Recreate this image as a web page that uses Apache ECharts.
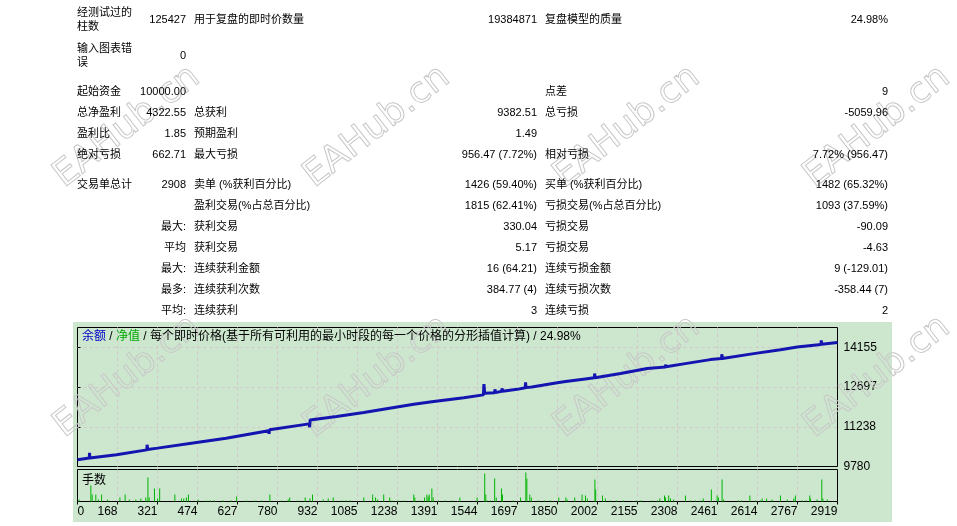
<!DOCTYPE html>
<html>
<head>
<meta charset="utf-8">
<script src="https://cdn.jsdelivr.net/npm/echarts@6/dist/echarts.min.js"></script>
<style>
html, body { margin: 0; padding: 0; background: #fff; }
#main { width: 957px; height: 526px; }
</style>
</head>
<body>
<div id="main"></div>
<script>
// Tabla de estadisticas (tres columnas etiqueta / valor)
const statLabels1 = ['经测试过的\n柱数', '输入图表错\n误', '起始资金', '总净盈利', '盈利比', '绝对亏损', '交易单总计', '', '', '', '', '', ''];
const statValues1 = ['125427', '0', '10000.00', '4322.55', '1.85', '662.71', '2908', '', '最大:', '平均', '最大:', '最多:', '平均:'];
const statLabels2 = ['用于复盘的即时价数量', '', '', '总获利', '预期盈利', '最大亏损', '卖单 (%获利百分比)', '盈利交易(%占总百分比)', '获利交易', '获利交易', '连续获利金额', '连续获利次数', '连续获利'];
const statValues2 = ['19384871', '', '', '9382.51', '1.49', '956.47 (7.72%)', '1426 (59.40%)', '1815 (62.41%)', '330.04', '5.17', '16 (64.21)', '384.77 (4)', '3'];
const statLabels3 = ['复盘模型的质量', '', '点差', '总亏损', '', '相对亏损', '买单 (%获利百分比)', '亏损交易(%占总百分比)', '亏损交易', '亏损交易', '连续亏损金额', '连续亏损次数', '连续亏损'];
const statValues3 = ['24.98%', '', '9', '-5059.96', '', '7.72% (956.47)', '1482 (65.32%)', '1093 (37.59%)', '-90.09', '-4.63', '9 (-129.01)', '-358.44 (7)', '2'];

// Curva de balance: numero de operacion / saldo
const balTrade = [15, 60, 61, 62, 164, 280, 281, 283, 321, 322, 324, 470, 583, 584, 586,
    745, 747, 749, 900, 902, 904, 1005, 1109, 1184, 1185, 1187, 1300, 1369, 1370, 1372,
    1491, 1566, 1568, 1571, 1609, 1610, 1612, 1636, 1637, 1639, 1695, 1726, 1727, 1729,
    1751, 1752, 1754, 1848, 1880, 1955, 1956, 1958, 1990, 1991, 1993, 2090, 2192,
    2261, 2262, 2264, 2337, 2338, 2340, 2433, 2434, 2436, 2476, 2477, 2479, 2599, 2701,
    2765, 2856, 2857, 2859, 2919];
const balValue = [10030, 10090, 10280, 10095, 10215, 10390, 10580, 10405, 10455, 10500, 10462, 10665, 10820, 10885, 10828,
    11095, 10985, 11130, 11345, 11225, 11490, 11614, 11760, 11880, 11942, 11886, 12066, 12158, 12180, 12162,
    12307, 12410, 12806, 12467, 12489, 12613, 12492, 12540, 12650, 12545, 12613, 12671, 12868, 12676,
    12700, 12733, 12703, 12854, 12904, 12995, 13050, 12999, 13036, 13196, 13040, 13196, 13379,
    13435, 13524, 13440, 13558, 13619, 13562, 13705, 13765, 13708, 13743, 13900, 13748, 13925, 14071,
    14166, 14262, 14410, 14266, 14335];

// Lotes por operacion
const volTrade = [21, 66, 71, 85, 95, 107, 130, 177, 197, 213, 238, 257, 276, 284, 289, 309, 321, 329,
    387, 412, 421, 431, 439, 476, 508, 523, 538, 572, 603, 623, 661, 692, 718, 750, 794, 820, 826,
    858, 885, 903, 913, 954, 973, 992, 1025, 1040, 1055, 1109, 1143, 1154, 1162, 1185, 1208, 1217,
    1240, 1265, 1300, 1304, 1326, 1341, 1350, 1355, 1359, 1369, 1374, 1395, 1420, 1445, 1476, 1542,
    1571, 1575, 1580, 1593, 1609, 1615, 1635, 1639, 1680, 1708, 1728, 1732, 1743, 1749, 1776, 1800,
    1822, 1854, 1881, 1886, 1915, 1943, 1956, 1963, 1992, 1995, 2021, 2032, 2052, 2075, 2102, 2152,
    2167, 2212, 2231, 2240, 2258, 2262, 2274, 2281, 2293, 2338, 2357, 2376, 2395, 2406, 2437, 2459,
    2464, 2478, 2484, 2540, 2552, 2584, 2606, 2625, 2631, 2648, 2669, 2701, 2727, 2752, 2758, 2785,
    2800, 2813, 2816, 2841, 2859, 2863, 2880];
const volLots = [0.02, 0.16, 0.07, 0.07, 0.02, 0.07, 0.02, 0.04, 0.07, 0.02, 0.02, 0.03, 0.04, 0.24, 0.04, 0.13, 0.03, 0.13,
    0.07, 0.03, 0.03, 0.04, 0.07, 0.02, 0.01, 0.01, 0.01, 0.01, 0.01, 0.05, 0.01, 0.01, 0.01, 0.07, 0.01, 0.02, 0.04,
    0.01, 0.04, 0.03, 0.07, 0.02, 0.03, 0.04, 0.01, 0.01, 0.01, 0.04, 0.07, 0.04, 0.02, 0.07, 0.04, 0.01,
    0.01, 0.01, 0.07, 0.04, 0.01, 0.04, 0.07, 0.05, 0.07, 0.13, 0.04, 0.01, 0.01, 0.01, 0.04, 0.04,
    0.28, 0.07, 0.01, 0.01, 0.23, 0.04, 0.13, 0.07, 0.01, 0.04, 0.29, 0.23, 0.07, 0.04, 0.01, 0.01,
    0.01, 0.04, 0.04, 0.02, 0.04, 0.07, 0.06, 0.03, 0.22, 0.12, 0.06, 0.03, 0.01, 0.01, 0.01, 0.01,
    0.01, 0.01, 0.01, 0.03, 0.06, 0.04, 0.06, 0.03, 0.02, 0.06, 0.01, 0.01, 0.01, 0.03, 0.12, 0.06,
    0.04, 0.22, 0.02, 0.01, 0.01, 0.06, 0.01, 0.01, 0.03, 0.03, 0.02, 0.06, 0.02, 0.03, 0.06, 0.01,
    0.01, 0.06, 0.03, 0.02, 0.22, 0.03, 0.02];

// Etiquetas de los ejes
const xTickLabels = ['0', '168', '321', '474', '627', '780', '932', '1085', '1238', '1391', '1544', '1697', '1850', '2002', '2155', '2308', '2461', '2614', '2767', '2919'];
const yTickLabels = ['9780', '11238', '12697', '14155'];

// Escalas (desplazadas para que min sea 0)
const X0 = 15, X_MAX = 2919;
const X_STEP = (X_MAX - X0) / (xTickLabels.length - 1);
const Y0 = 9780, Y_STEP = 4375 / 3;
const Y_TOP = 3.5 * Y_STEP;
const VOL_MAX = 0.32;

// Disposicion de la tabla
const ROW_Y = [20, 56, 92, 113, 134, 155, 185, 206, 227, 248, 269, 290, 311];
const COL_X = [77, 186, 194, 537, 545, 888];

const FONT_FAMILY = '"Liberation Sans", "Noto Sans CJK SC", sans-serif';
const GRID_COLOR = '#d3c7cd';
const PANEL_COLOR = '#cde7cf';

const chart = echarts.init(document.getElementById('main'));

const graphics = [];

// Fondo verde del panel
graphics.push({
    type: 'rect', z: -10, silent: true,
    shape: { x: 73, y: 322, width: 819, height: 200 },
    style: { fill: PANEL_COLOR }
});

// Marcas de agua (solo contorno, debajo del texto)
for (let i = 0; i < 4; i++) {
    for (let j = 0; j < 2; j++) {
        graphics.push({
            type: 'text', z: 1, silent: true,
            x: 127 + i * 250, y: 127 + j * 250,
            rotation: 38 * Math.PI / 180,
            style: {
                text: 'EAHub.cn',
                font: '36px "DejaVu Sans", sans-serif',
                fill: 'none',
                stroke: '#c8c8c8',
                lineWidth: 1,
                align: 'center',
                verticalAlign: 'middle'
            }
        });
    }
}

// Texto de la tabla
const columns = [statLabels1, statValues1, statLabels2, statValues2, statLabels3, statValues3];
columns.forEach(function (col, c) {
    col.forEach(function (txt, r) {
        if (!txt) return;
        graphics.push({
            type: 'text', z: 50, silent: true,
            x: COL_X[c], y: ROW_Y[r],
            style: {
                text: txt,
                fill: '#000',
                font: '11px ' + FONT_FAMILY,
                align: c % 2 === 0 ? 'left' : 'right',
                verticalAlign: 'middle',
                lineHeight: 14
            }
        });
    });
});

// Titulo del grafico
graphics.push({
    type: 'text', z: 50, silent: true,
    x: 82, y: 337,
    style: {
        text: '{b|余额} / {g|净值} / 每个即时价格(基于所有可利用的最小时段的每一个价格的分形插值计算) / 24.98%',
        fill: '#000',
        font: '12px ' + FONT_FAMILY,
        verticalAlign: 'middle',
        rich: {
            b: { fill: '#0000c8', font: '12px ' + FONT_FAMILY },
            g: { fill: '#00a800', font: '12px ' + FONT_FAMILY }
        }
    }
});
graphics.push({
    type: 'text', z: 50, silent: true,
    x: 82, y: 481,
    style: { text: '手数', fill: '#000', font: '12px ' + FONT_FAMILY, verticalAlign: 'middle' }
});

const splitStyle = { show: true, showMinLine: false, showMaxLine: false, lineStyle: { color: GRID_COLOR, type: [3, 3], width: 1 } };

const option = {
    animation: false,
    backgroundColor: '#fff',
    graphic: graphics,
    grid: [
        { left: 77.5, top: 327.5, width: 760, height: 139, show: true, borderColor: '#000', borderWidth: 1, backgroundColor: 'transparent' },
        { left: 77.5, top: 469.5, width: 760, height: 32, show: true, borderColor: '#000', borderWidth: 1, backgroundColor: 'transparent' }
    ],
    xAxis: [
        {
            gridIndex: 0, type: 'value', min: 0, max: X_MAX - X0, interval: X_STEP,
            axisLine: { show: false }, axisTick: { show: false }, axisLabel: { show: false },
            splitLine: splitStyle
        },
        {
            gridIndex: 1, type: 'value', min: 0, max: X_MAX - X0, interval: X_STEP,
            axisLine: { show: false },
            axisTick: { show: true, length: 3, lineStyle: { color: '#000' } },
            axisLabel: {
                show: true, color: '#000', fontSize: 12, fontFamily: FONT_FAMILY, margin: 4,
                align: 'right', alignMinLabel: 'left',
                formatter: function (v) { return xTickLabels[Math.round(v / X_STEP)] || ''; }
            },
            splitLine: splitStyle
        }
    ],
    yAxis: [
        {
            gridIndex: 0, type: 'value', position: 'right', min: 0, max: Y_TOP, interval: Y_STEP,
            axisLine: { show: false },
            axisTick: { show: true, length: 3, lineStyle: { color: '#000' } },
            axisLabel: {
                color: '#000', fontSize: 12, fontFamily: FONT_FAMILY, margin: 6, showMaxLabel: false,
                formatter: function (v) { return yTickLabels[Math.round(v / Y_STEP)] || ''; }
            },
            splitLine: splitStyle
        },
        {
            gridIndex: 1, type: 'value', min: 0, max: VOL_MAX,
            axisLine: { show: false }, axisTick: { show: false }, axisLabel: { show: false },
            splitLine: { show: false }
        }
    ],
    series: [
        {
            name: '余额', type: 'line', xAxisIndex: 0, yAxisIndex: 0,
            data: balTrade.map(function (t, i) { return [t - X0, balValue[i] - Y0]; }),
            showSymbol: false, symbol: 'none',
            lineStyle: { color: '#1414b0', width: 3 },
            z: 5
        },
        {
            name: '手数', type: 'bar', xAxisIndex: 1, yAxisIndex: 1,
            data: volTrade.map(function (t, i) { return [t - X0, volLots[i]]; }),
            barWidth: 1,
            itemStyle: { color: '#00b400' }
        }
    ]
};

chart.setOption(option);
</script>
</body>
</html>
